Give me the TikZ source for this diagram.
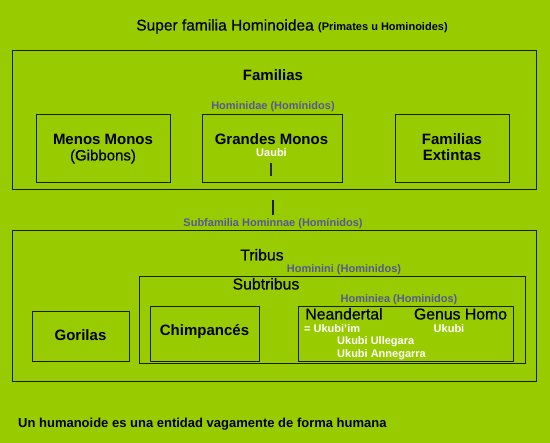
\documentclass[tikz,border=0pt]{standalone}
\usepackage{fontspec}
\setmainfont{Liberation Sans}
\newfontfamily\medfont[FakeBold=0.6]{Liberation Sans}
\definecolor{bgc}{RGB}{153,204,0}
\definecolor{boxc}{RGB}{25,30,0}
\definecolor{labc}{RGB}{88,88,150}
\definecolor{tickc}{RGB}{40,40,110}
\tikzset{
  box/.style={draw=boxc, line width=1.2pt, inner sep=0pt, anchor=north west},
  boldlab/.style={font=\fontsize{15}{17}\selectfont\bfseries, text=black, anchor=base, inner sep=0pt},
  reglab/.style={font=\medfont\fontsize{15.8}{18}\selectfont, text=black, anchor=base, inner sep=0pt},
  bluelab/.style={font=\fontsize{11}{13}\selectfont\bfseries, text=labc, anchor=base, inner sep=0pt},
  whitelab/.style={font=\fontsize{11}{13}\selectfont\bfseries, text=white, anchor=base west, inner sep=0pt},
  conn/.style={draw=boxc, line width=1.2pt},
}
\begin{document}
\begin{tikzpicture}[x=1pt,y=-1pt]
\fill[bgc] (0,0) rectangle (550,443);
\useasboundingbox (0,0) rectangle (550,443);

% title
\node[reglab, font=\medfont\fontsize{15.5}{18}\selectfont] (title) at (292,30.5)
  {Super familia Hominoidea {\normalfont\fontsize{11}{13}\selectfont\bfseries(Primates u Hominoides)}};

% box 1
\node[box, minimum width=524, minimum height=139] (fam) at (12,50) {};
\node[boldlab] (famlab) at (273,80.5) {Familias};
\node[bluelab] (hominidae) at (273,110) {Hominidae (Homínidos)};

\node[box, minimum width=134, minimum height=68] (menos) at (36,114) {};
\node[boldlab] (menos1) at (103,144.5) {Menos Monos};
\node[reglab, font=\medfont\fontsize{15}{17}\selectfont] (menos2) at (103,160.5) {(Gibbons)};

\node[box, minimum width=140, minimum height=68] (grandes) at (202,114) {};
\node[boldlab] (grandes1) at (271.5,144.5) {Grandes Monos};
\node[bluelab, text=white] (uaubi) at (271.5,157) {Uaubi};
\coordinate (tickA) at (271,163);
\coordinate (tickB) at (271,176);
\draw[draw=tickc, line width=1.2pt] (tickA) -- (tickB);

\node[box, minimum width=114, minimum height=68] (extintas) at (395,114) {};
\node[boldlab] (ext1) at (452,144.5) {Familias};
\node[boldlab] (ext2) at (452,160.5) {Extintas};

% connector
\coordinate (cA) at (273,200);
\coordinate (cB) at (273,215.5);
\draw[conn] (cA) -- (cB);
\node[bluelab] (subfam) at (273,227) {Subfamilia Hominnae (Homínidos)};

% box 2
\node[box, minimum width=524, minimum height=151] (tribus) at (12,230) {};
\node[reglab] (tribuslab) at (262,260.5) {Tribus};
\node[bluelab] (hominini) at (344,273) {Hominini (Hominidos)};

\node[box, minimum width=97, minimum height=50] (gorilas) at (32,311) {};
\node[boldlab] (gorilaslab) at (80.5,341) {Gorilas};

\node[box, minimum width=386, minimum height=87] (subtribus) at (139,276) {};
\node[reglab] (subtribuslab) at (266,289.5) {Subtribus};
\node[bluelab] (hominiea) at (399,303) {Hominiea (Hominidos)};

\node[box, minimum width=109, minimum height=55] (chimp) at (150,306) {};
\node[boldlab] (chimplab) at (204.5,336) {Chimpancés};

\node[box, minimum width=215, minimum height=55] (homo) at (298,306) {};
\node[reglab] (neander) at (344,319.5) {Neandertal};
\node[reglab] (genus) at (460.5,319.5) {Genus Homo};
\node[whitelab] (ukubiim) at (304,332.5) {= Ukubi'im};
\node[whitelab, anchor=base] (ukubi) at (449,332.5) {Ukubi};
\node[whitelab] (ulle) at (337,345) {Ukubi Ullegara};
\node[whitelab] (anne) at (337,358) {Ukubi Annegarra};

% footer
\node[boldlab, anchor=base west, font=\fontsize{13}{15}\selectfont\bfseries] (foot) at (18,427.5)
  {Un humanoide es una entidad vagamente de forma humana};
\end{tikzpicture}
\end{document}
